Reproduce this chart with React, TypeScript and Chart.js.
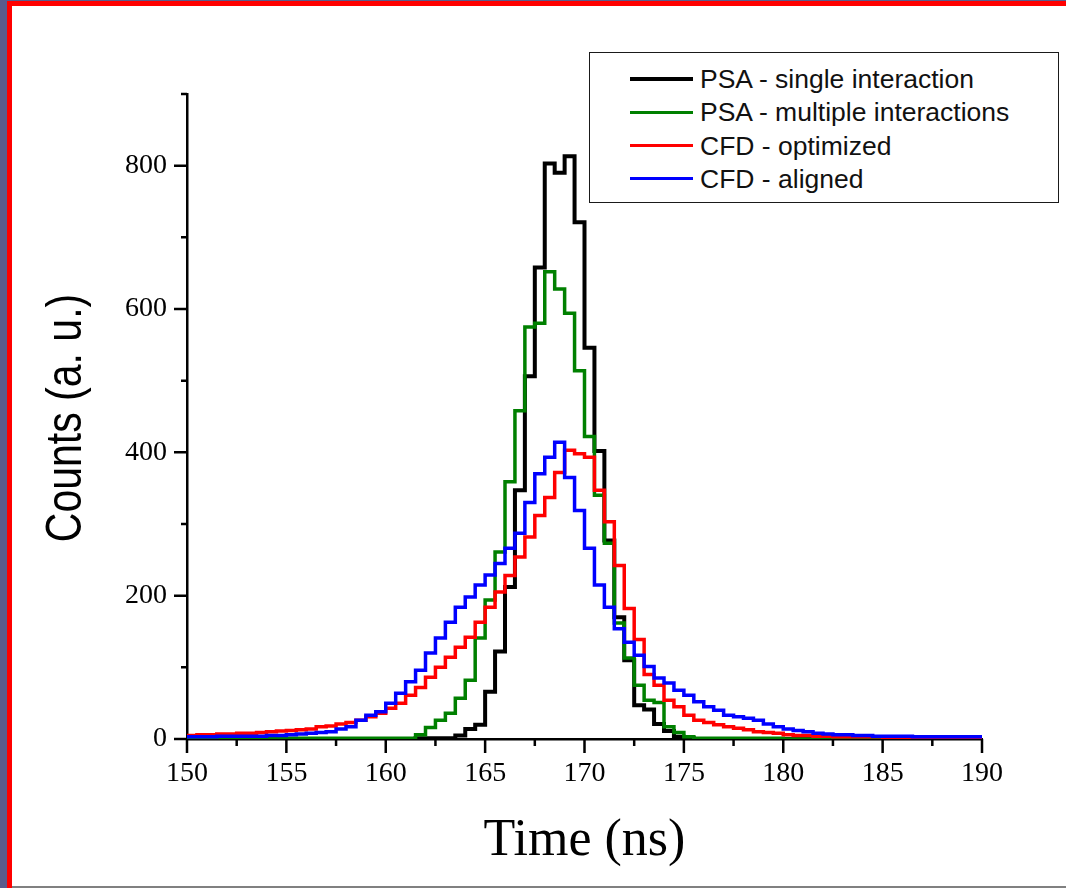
import React, { useEffect, useRef } from 'react';
import { Chart, registerables } from 'chart.js';

Chart.register(...registerables);

// ---- data (histogram, 0.5 ns bins starting at 150 ns) ----
const BIN_START = 150;
const BIN_WIDTH = 0.5;
const X_MIN = 150;
const X_MAX = 190;
const Y_MIN = 0;
const Y_MAX = 900;
const X_TICK_STEP = 2.5;
const X_LABEL_STEP = 5;
const Y_TICK_STEP = 100;
const Y_LABEL_STEP = 200;

const X_TITLE = 'Time (ns)';
const Y_TITLE = 'Counts (a. u.)';

const SERIES_NAMES = [
  'PSA - single interaction',
  'PSA - multiple interactions',
  'CFD - optimized',
  'CFD - aligned',
];
const SERIES_COLORS = ['#000000', '#008000', '#ff0000', '#0000ff'];
const SERIES_WIDTHS = [4, 3.5, 3.5, 3.5];
const SERIES_ORDER = [3, 2, 1, 0];

const psaSingle = [
  0, 0, 0, 0, 0, 0, 0, 0, 0, 0,
  0, 0, 0, 0, 0, 0, 0, 0, 0, 0,
  0, 0, 0, 1, 1, 1, 1, 5, 14, 20,
  66, 122, 212, 347, 506, 658, 803, 790, 813, 721,
  546, 402, 277, 170, 110, 47, 41, 21, 11, 3,
  1, 0, 0, 0, 0, 0, 0, 0, 0, 0,
  0, 0, 0, 0, 0, 0, 0, 0, 0, 0,
  0, 0, 0, 0, 0, 0, 0, 0, 0, 0,
];

const psaMultiple = [
  0, 0, 0, 0, 0, 0, 0, 1, 1, 1,
  1, 1, 1, 1, 1, 1, 1, 1, 1, 1,
  1, 1, 1, 6, 16, 26, 36, 57, 82, 141,
  194, 261, 359, 458, 575, 580, 652, 628, 594, 514,
  422, 340, 273, 162, 113, 75, 54, 51, 17, 9,
  3, 1, 1, 1, 1, 1, 1, 1, 1, 1,
  0, 0, 0, 0, 0, 0, 0, 0, 0, 0,
  0, 0, 0, 0, 0, 0, 0, 0, 0, 0,
];

const cfdOptimized = [
  5, 6, 6, 7, 7, 8, 8, 9, 10, 11,
  12, 13, 14, 17, 18, 21, 23, 26, 31, 36,
  43, 50, 61, 72, 86, 100, 114, 128, 142, 163,
  184, 205, 228, 254, 282, 312, 337, 372, 403, 398,
  393, 347, 303, 242, 182, 139, 90, 75, 54, 45,
  33, 26, 23, 20, 17, 15, 13, 10, 9, 8,
  6, 5, 5, 4, 4, 3, 3, 3, 3, 3,
  2, 2, 2, 1, 1, 1, 1, 1, 1, 1,
];

const cfdAligned = [
  3, 3, 3, 4, 4, 4, 4, 4, 5, 5,
  6, 7, 8, 9, 10, 14, 17, 26, 33, 38,
  50, 64, 80, 96, 120, 141, 163, 184, 198, 215,
  229, 245, 266, 287, 330, 370, 393, 414, 365, 319,
  266, 215, 184, 154, 135, 117, 101, 85, 78, 68,
  61, 52, 45, 40, 33, 31, 29, 26, 21, 17,
  14, 12, 10, 8, 7, 6, 6, 5, 5, 4,
  4, 4, 4, 3, 3, 3, 3, 3, 3, 3,
];

const SERIES_VALUES = [psaSingle, psaMultiple, cfdOptimized, cfdAligned];

// histogram -> stepped points at bin left edges, plus closing edge
function toSteps(values: number[]) {
  const pts = values.map((v, i) => ({ x: BIN_START + i * BIN_WIDTH, y: v }));
  pts.push({ x: BIN_START + values.length * BIN_WIDTH, y: values[values.length - 1] });
  return pts;
}

const SERIF = '"Liberation Serif", "Times New Roman", serif';
const SANS = '"Liberation Sans", Arial, sans-serif';

const axisDecorPlugin = {
  id: 'axisDecor',
  afterDraw(chart: any) {
    const { ctx, scales } = chart;
    const x = scales.x;
    const y = scales.y;
    ctx.save();
    // tick marks: long for labelled values, short for intermediate ones
    ctx.strokeStyle = '#000';
    ctx.lineWidth = 2.5;
    ctx.lineCap = 'butt';
    ctx.beginPath();
    x.ticks.forEach((t: any) => {
      const px = x.getPixelForValue(t.value);
      const major = Math.abs(t.value / X_LABEL_STEP - Math.round(t.value / X_LABEL_STEP)) < 1e-6;
      const len = major ? 14 : 7;
      ctx.moveTo(px, x.top);
      ctx.lineTo(px, x.top + len);
    });
    y.ticks.forEach((t: any) => {
      const py = y.getPixelForValue(t.value);
      const major = t.value % Y_LABEL_STEP === 0;
      const len = major ? 13 : 6;
      ctx.moveTo(y.right - len, py);
      ctx.lineTo(y.right, py);
    });
    ctx.stroke();
    // condensed y-axis title
    ctx.translate(81, (y.top + y.bottom) / 2 + 1.5);
    ctx.rotate(-Math.PI / 2);
    ctx.scale(0.82, 1);
    ctx.font = '50px ' + SANS;
    ctx.fillStyle = '#000';
    ctx.textAlign = 'center';
    ctx.textBaseline = 'alphabetic';
    ctx.fillText(Y_TITLE, 0, 0);
    ctx.restore();
  },
};

export default function App() {
  const canvasRef = useRef<HTMLCanvasElement>(null);

  useEffect(() => {
    document.body.style.margin = '0';
    const canvas = canvasRef.current;
    if (!canvas) return;
    const chart = new Chart(canvas, {
      type: 'line',
      data: {
        datasets: SERIES_VALUES.map((vals, i) => ({
          label: SERIES_NAMES[i],
          data: toSteps(vals),
          borderColor: SERIES_COLORS[i],
          backgroundColor: SERIES_COLORS[i],
          borderWidth: SERIES_WIDTHS[i],
          stepped: 'before' as const,
          pointRadius: 0,
          fill: false,
          tension: 0,
          borderJoinStyle: 'miter' as const,
          borderCapStyle: 'butt' as const,
          order: SERIES_ORDER[i],
        })),
      },
      options: {
        responsive: false,
        animation: false,
        devicePixelRatio: 1,
        layout: { padding: { top: 94, right: 84, bottom: 0, left: 0 } },
        plugins: {
          legend: { display: false },
          tooltip: { enabled: false },
        },
        scales: {
          x: {
            type: 'linear',
            min: X_MIN,
            max: X_MAX,
            afterFit: (s: any) => {
              s.height = 149;
            },
            grid: { display: false, drawTicks: false, tickLength: 0 },
            border: { display: true, color: '#000', width: 2.5 },
            ticks: {
              stepSize: X_TICK_STEP,
              autoSkip: false,
              maxRotation: 0,
              padding: 18,
              color: '#000',
              font: { family: SERIF, size: 28, lineHeight: 1.2 },
              callback: (v: any) => {
                const n = Number(v);
                return Math.abs(n / X_LABEL_STEP - Math.round(n / X_LABEL_STEP)) < 1e-6 ? String(n) : '';
              },
            },
            title: {
              display: true,
              text: X_TITLE,
              color: '#000',
              font: { family: SERIF, size: 52, lineHeight: 1.2 },
              padding: { top: 0, bottom: 15 },
            },
          },
          y: {
            type: 'linear',
            min: Y_MIN,
            max: Y_MAX,
            afterFit: (s: any) => {
              s.width = 187;
            },
            grid: { display: false, drawTicks: false, tickLength: 0 },
            border: { display: true, color: '#000', width: 2.5 },
            ticks: {
              stepSize: Y_TICK_STEP,
              autoSkip: false,
              padding: 20,
              color: '#000',
              font: { family: SERIF, size: 28, lineHeight: 1.2 },
              callback: (v: any) => (Number(v) % Y_LABEL_STEP === 0 ? String(v) : ''),
            },
            title: { display: false, text: Y_TITLE },
          },
        },
      },
      plugins: [axisDecorPlugin],
    } as any);
    return () => chart.destroy();
  }, []);

  return (
    <div style={{ position: 'relative', width: 1066, height: 888, background: '#ffffff', overflow: 'hidden' }}>
      <div style={{ position: 'absolute', left: 0, top: 0, width: 7, height: 888, background: '#5b5b8c' }} />
      <div style={{ position: 'absolute', left: 0, top: 0, width: 1066, height: 1, background: '#5b5b8c' }} />
      <div style={{ position: 'absolute', left: 7, top: 1, width: 5, height: 887, background: '#ff0000' }} />
      <div style={{ position: 'absolute', left: 7, top: 1, width: 1059, height: 5, background: '#ff0000' }} />
      <div style={{ position: 'absolute', left: 12, top: 886, width: 1054, height: 2, background: '#808080' }} />
      <canvas
        ref={canvasRef}
        width={1066}
        height={888}
        style={{ position: 'absolute', left: 0, top: 0, width: 1066, height: 888 }}
      />
      <div
        style={{
          position: 'absolute',
          left: 589,
          top: 52,
          width: 470,
          height: 151,
          boxSizing: 'border-box',
          border: '1.5px solid #1a1a1a',
          background: '#ffffff',
          fontFamily: SANS,
          fontSize: 26.5,
          color: '#111',
        }}
      >
        {SERIES_NAMES.map((name, i) => (
          <div
            key={name}
            style={{
              position: 'absolute',
              left: 40,
              top: 26 + i * 33.3 - 15,
              height: 30,
              lineHeight: '30px',
              display: 'flex',
              alignItems: 'center',
              whiteSpace: 'nowrap',
            }}
          >
            <div style={{ width: 63, height: i === 0 ? 4.5 : 3, background: SERIES_COLORS[i] }} />
            <span style={{ marginLeft: 7 }}>{name}</span>
          </div>
        ))}
      </div>
    </div>
  );
}
